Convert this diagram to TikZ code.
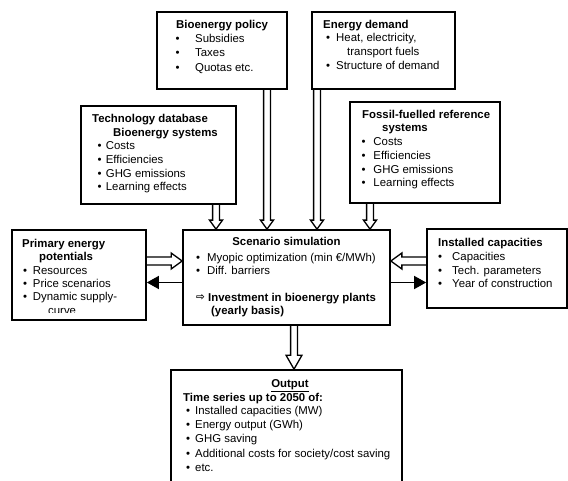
\documentclass[tikz,border=0pt]{standalone}
\usepackage{fontspec}
\setmainfont{Liberation Sans}
\newfontfamily\arrowfont{DejaVu Sans}
\usetikzlibrary{arrows.meta,calc,backgrounds}
\newcommand\bul[1]{\llap{\textbullet\hspace{#1}}}
\newcommand\hdown[4]{%
  \draw[hol] let \p1=(#1), \p2=(#2) in
    (\x1-3.4pt,\y1) -- (\x1-3.4pt,\y2+#4) -- (\x1-#3,\y2+#4) -- (\x2,\y2)
    -- (\x1+#3,\y2+#4) -- (\x1+3.4pt,\y2+#4) -- (\x1+3.4pt,\y1);}
\newcommand\hright[4]{%
  \draw[hol] let \p1=(#1), \p2=(#2) in
    (\x1,\y1+4pt) -- (\x2-#4,\y1+4pt) -- (\x2-#4,\y1+#3) -- (\x2,\y1)
    -- (\x2-#4,\y1-#3) -- (\x2-#4,\y1-4pt) -- (\x1,\y1-4pt);}
\newcommand\hleft[4]{%
  \draw[hol] let \p1=(#1), \p2=(#2) in
    (\x1,\y1+4pt) -- (\x2+#4,\y1+4pt) -- (\x2+#4,\y1+#3) -- (\x2,\y1)
    -- (\x2+#4,\y1-#3) -- (\x2+#4,\y1-4pt) -- (\x1,\y1-4pt);}
\begin{document}
\begin{tikzpicture}[x=1pt,y=-1pt,
  box/.style={draw, line width=1.7pt, rectangle, inner sep=0},
  txt/.style={inner sep=0, anchor=base west, font=\fontsize{11.4pt}{14pt}\selectfont},
  btxt/.style={txt, font=\fontsize{11.4pt}{14pt}\selectfont\bfseries},
  hol/.style={draw, line width=1.3pt, fill=white, line join=miter},
  blk/.style={line width=1.5pt, -{Triangle[length=12pt,width=13pt]}}]
\useasboundingbox (0,0) rectangle (568,481);
\clip (0,0) rectangle (568,481);

% boxes
\node[box, minimum width=130pt, minimum height=77pt] (pol) at (222,50.5) {};
\node[box, minimum width=143pt, minimum height=77pt] (dem) at (383.5,50.5) {};
\node[box, minimum width=155pt, minimum height=98pt] (tech) at (158.5,155) {};
\node[box, minimum width=150pt, minimum height=101pt] (fos) at (425,152.5) {};
\node[box, minimum width=207pt, minimum height=95pt] (scen) at (286.5,277.5) {};
\node[box, minimum width=134pt, minimum height=90pt] (prim) at (79,275) {};
\node[box, minimum width=140pt, minimum height=79pt] (inst) at (497,268.5) {};
\node[box, minimum width=231pt, minimum height=124pt] (out) at (286.5,432) {};

% arrow positions
\coordinate (ax1) at (216,0);
\coordinate (ax2) at (267,0);
\coordinate (ax3) at (317,0);
\coordinate (ax4) at (370,0);
\coordinate (ax5) at (294,0);
\coordinate (hy) at (0,261);
\coordinate (by) at (0,282.5);

\begin{pgfonlayer}{background}
\hdown{tech.south -| ax1}{scen.north -| ax1}{6.5pt}{9pt}
\hdown{pol.south -| ax2}{scen.north -| ax2}{6.5pt}{9pt}
\hdown{dem.south -| ax3}{scen.north -| ax3}{6.5pt}{9pt}
\hdown{fos.south -| ax4}{scen.north -| ax4}{6.5pt}{9pt}
\hdown{scen.south -| ax5}{out.north -| ax5}{8pt}{14pt}
\hright{prim.east |- hy}{scen.west |- hy}{8pt}{11pt}
\hleft{inst.west |- hy}{scen.east |- hy}{8pt}{11pt}
\end{pgfonlayer}
\draw[blk] (scen.west |- by) -- (prim.east |- by);
\draw[blk] (scen.east |- by) -- (inst.west |- by);

% Bioenergy policy
\node[btxt] (p0) at (176,28.5) {Bioenergy policy};
\node[txt] (p1) at (195,42.8) {\bul{15.7pt}Subsidies};
\node[txt] (p2) at (195,57) {\bul{15.7pt}Taxes};
\node[txt] (p3) at (195,71.3) {\bul{15.7pt}Quotas etc.};

% Energy demand
\node[btxt] (d0) at (323,28.5) {Energy demand};
\node[txt] (d1) at (336,41.8) {\bul{6pt}Heat, electricity,};
\node[txt] (d2) at (347,55.2) {transport fuels};
\node[txt] (d3) at (336,69.5) {\bul{6pt}Structure of demand};

% Technology database
\node[btxt] (t0) at (92,122.5) {Technology database};
\node[btxt] (t1) at (113,136.5) {Bioenergy systems};
\node[txt] (t2) at (105.7,149.5) {\bul{4.4pt}Costs};
\node[txt] (t3) at (105.7,163.5) {\bul{4.4pt}Efficiencies};
\node[txt] (t4) at (105.7,177.5) {\bul{4.4pt}GHG emissions};
\node[txt] (t5) at (105.7,190.8) {\bul{4.4pt}Learning effects};

% Fossil
\node[btxt] (f0) at (362,118.5) {Fossil-fuelled reference};
\node[btxt] (f1) at (382,131.8) {systems};
\node[txt] (f2) at (373.3,145.5) {\bul{8pt}Costs};
\node[txt] (f3) at (373.3,159.5) {\bul{8pt}Efficiencies};
\node[txt] (f4) at (373.3,173.5) {\bul{8pt}GHG emissions};
\node[txt] (f5) at (373.3,187) {\bul{8pt}Learning effects};

% Primary energy potentials
\node[btxt] (r0) at (22,247.5) {Primary energy};
\node[btxt] (r1) at (39,260.5) {potentials};
\node[txt] (r2) at (32.7,274.5) {\bul{5.7pt}Resources};
\node[txt] (r3) at (32.7,287.5) {\bul{5.7pt}Price scenarios};
\node[txt] (r4) at (32.7,300.5) {\bul{5.7pt}Dynamic supply-};
\begin{scope}
\clip (0,0) rectangle (568,313);
\node[txt] (r5) at (48,314.5) {curve};
\end{scope}

% Scenario simulation
\node[btxt, anchor=base] (s0) at (286.5,245.5) {Scenario simulation};
\node[txt] (s1) at (207,261.5) {\bul{7pt}Myopic optimization (min €/MWh)};
\node[txt] (s2) at (207,274.5) {\bul{7pt}Diff. barriers};
\node[txt, font=\fontsize{10.5pt}{12pt}\arrowfont\bfseries] (s3) at (196,300.5) {⇨};
\node[btxt] (s4) at (208,301.5) {Investment in bioenergy plants};
\node[btxt] (s5) at (211,314.5) {(yearly basis)};

% Installed capacities
\node[btxt] (i0) at (438,246.5) {Installed capacities};
\node[txt] (i1) at (452,260.5) {\bul{10pt}Capacities};
\node[txt] (i2) at (452,274.5) {\bul{10pt}Tech. parameters};
\node[txt] (i3) at (452,287.5) {\bul{10pt}Year of construction};

% Output
\node[btxt, anchor=base] (o0) at (290,387.5) {\underline{Output}};
\node[btxt] (o1) at (183,401) {Time series up to 2050 of:};
\node[txt] (o2) at (195,414.5) {\bul{5pt}Installed capacities (MW)};
\node[txt] (o3) at (195,428.5) {\bul{5pt}Energy output (GWh)};
\node[txt] (o4) at (195,442.5) {\bul{5pt}GHG saving};
\node[txt] (o5) at (195,457.5) {\bul{5pt}Additional costs for society/cost saving};
\node[txt] (o6) at (195,471.5) {\bul{5pt}etc.};
\end{tikzpicture}
\end{document}
